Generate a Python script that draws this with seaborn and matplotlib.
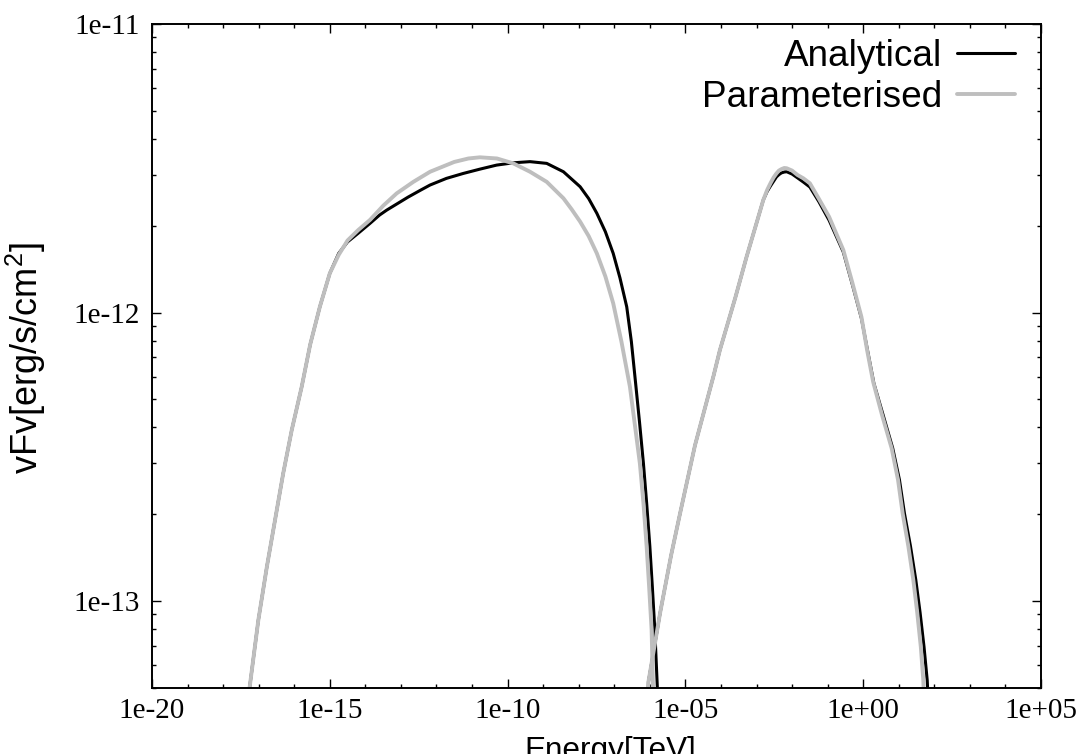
import numpy as np
import pandas as pd
import matplotlib
matplotlib.use('Agg')
import matplotlib.pyplot as plt
import seaborn as sns
from matplotlib.lines import Line2D
from matplotlib.ticker import FixedLocator, LogLocator, FuncFormatter, NullFormatter

# log10(E/TeV) and log10(vFv)
ana_sync_logE = [-17.36, -17.24, -17.01, -16.77, -16.54, -16.31, -16.07, -15.79, -15.55, -15.28,
                 -15.00, -14.75, -14.50, -14.20, -13.87, -13.60, -13.40, -13.12, -12.80, -12.45,
                 -12.18, -11.72, -11.25, -10.78, -10.31, -9.84, -9.37, -8.90, -8.43, -7.96,
                 -7.72, -7.49, -7.25, -7.03, -6.84, -6.65, -6.52, -6.40, -6.29, -6.18,
                 -6.09, -6.00, -5.93, -5.86, -5.79, -5.77]
ana_sync_logF = [-13.40, -13.285, -13.066, -12.881, -12.719, -12.557, -12.407, -12.257, -12.11, -11.98,
                 -11.864, -11.795, -11.755, -11.725, -11.691, -11.662, -11.645, -11.624, -11.600, -11.576,
                 -11.558, -11.535, -11.518, -11.503, -11.489, -11.481, -11.477, -11.483, -11.512, -11.564,
                 -11.605, -11.656, -11.72, -11.795, -11.88, -11.98, -12.10, -12.245, -12.38, -12.523,
                 -12.66, -12.81, -12.95, -13.10, -13.297, -13.40]

par_sync_logE = [-17.36, -17.24, -17.01, -16.77, -16.54, -16.31, -16.07, -15.79, -15.55, -15.28,
                 -15.00, -14.75, -14.50, -14.20, -13.87, -13.50, -13.12, -12.65, -12.18, -11.50,
                 -11.10, -10.78, -10.30, -9.84, -9.37, -8.90, -8.43, -8.20, -7.96, -7.72,
                 -7.49, -7.25, -7.03, -6.80, -6.56, -6.42, -6.28, -6.18, -6.09, -6.02,
                 -5.95, -5.91, -5.89]
par_sync_logF = [-13.40, -13.285, -13.066, -12.881, -12.719, -12.557, -12.407, -12.257, -12.11, -11.98,
                 -11.864, -11.80, -11.75, -11.714, -11.679, -11.63, -11.587, -11.547, -11.512, -11.478,
                 -11.466, -11.462, -11.466, -11.483, -11.512, -11.547, -11.604, -11.642, -11.685, -11.735,
                 -11.795, -11.875, -11.968, -12.10, -12.257, -12.39, -12.523, -12.66, -12.81, -12.95,
                 -13.10, -13.30, -13.40]

ana_ic_logE = [-6.07, -6.04, -5.71, -5.40, -5.15, -4.73, -4.21, -4.03, -3.60, -3.28,
               -3.00, -2.81, -2.70, -2.60, -2.52, -2.44, -2.37, -2.30, -2.22, -2.15,
               -2.00, -1.85, -1.68, -1.50, -1.25, -0.96, -0.56, -0.30, -0.05, 0.12,
               0.30, 0.56, 0.83, 1.02, 1.16, 1.33, 1.48, 1.60, 1.71, 1.80, 1.85]
ana_ic_logF = [-13.40, -13.28, -13.04, -12.84, -12.696, -12.46, -12.22, -12.13, -11.95, -11.807,
               -11.69, -11.61, -11.58, -11.56, -11.545, -11.53, -11.522, -11.516, -11.513, -11.512,
               -11.52, -11.533, -11.548, -11.565, -11.615, -11.68, -11.79, -11.905, -12.02, -12.13,
               -12.245, -12.355, -12.47, -12.58, -12.696, -12.81, -12.927, -13.04, -13.158, -13.274, -13.40]

par_ic_logE = [-6.07, -6.04, -5.71, -5.40, -5.15, -4.73, -4.21, -4.03, -3.60, -3.28,
               -3.00, -2.81, -2.70, -2.60, -2.52, -2.44, -2.37, -2.30, -2.22, -2.15,
               -2.00, -1.85, -1.68, -1.50, -1.25, -0.96, -0.56, -0.30, -0.05, 0.11,
               0.28, 0.53, 0.80, 0.98, 1.11, 1.27, 1.41, 1.52, 1.62, 1.69, 1.73]
par_ic_logF = [-13.40, -13.28, -13.04, -12.84, -12.696, -12.46, -12.22, -12.13, -11.95, -11.807,
               -11.69, -11.61, -11.575, -11.55, -11.532, -11.518, -11.508, -11.503, -11.499, -11.50,
               -11.508, -11.523, -11.535, -11.552, -11.605, -11.668, -11.783, -11.899, -12.015, -12.13,
               -12.24, -12.355, -12.47, -12.58, -12.696, -12.81, -12.927, -13.04, -13.158, -13.274, -13.40]

x_major = [-20, -15, -10, -5, 0, 5]
y_major = [-13, -12, -11]


def part_frame(logE, logF, model, part):
    return pd.DataFrame({'energy': 10.0 ** np.array(logE), 'flux': 10.0 ** np.array(logF),
                         'model': model, 'part': part})


df = pd.concat([
    part_frame(ana_sync_logE, ana_sync_logF, 'Analytical', 'sync'),
    part_frame(ana_ic_logE, ana_ic_logF, 'Analytical', 'ic'),
    part_frame(par_sync_logE, par_sync_logF, 'Parameterised', 'sync'),
    part_frame(par_ic_logE, par_ic_logF, 'Parameterised', 'ic'),
], ignore_index=True)

sns.set_style('white')
plt.rcParams['font.family'] = ['Liberation Sans', 'DejaVu Sans']
plt.rcParams['mathtext.default'] = 'regular'
plt.rcParams['text.color'] = 'black'

colors = {'Analytical': 'black', 'Parameterised': '#bebebe'}
widths = {'Analytical': 2.2, 'Parameterised': 2.8}

fig = plt.figure(figsize=(10.78, 7.54), dpi=100)
ax = fig.add_axes([152 / 1078, 1 - 688 / 754, (1041 - 152) / 1078, (688 - 24) / 754])
ax.set_xscale('log')
ax.set_yscale('log')

for model in ['Analytical', 'Parameterised']:
    sns.lineplot(data=df[df['model'] == model], x='energy', y='flux', units='part',
                 estimator=None, sort=False, color=colors[model], linewidth=widths[model],
                 solid_joinstyle='round', solid_capstyle='round', ax=ax, legend=False)

ax.set_xlim(1e-20, 1e5)
ax.set_ylim(5e-14, 1e-11)

fmt = FuncFormatter(lambda v, p: f'{v:.0e}')
ax.xaxis.set_major_locator(FixedLocator(10.0 ** np.array(x_major)))
ax.xaxis.set_minor_locator(FixedLocator(10.0 ** np.arange(-20, 6)))
ax.xaxis.set_major_formatter(fmt)
ax.xaxis.set_minor_formatter(NullFormatter())
ax.yaxis.set_major_locator(FixedLocator(10.0 ** np.array(y_major)))
ax.yaxis.set_minor_locator(LogLocator(base=10, subs=np.arange(2, 10), numticks=20))
ax.yaxis.set_major_formatter(fmt)
ax.yaxis.set_minor_formatter(NullFormatter())

ax.tick_params(which='both', direction='in', top=True, right=True, bottom=True, left=True,
               width=1.0, color='black', labelsize=21, labelfontfamily='Liberation Serif',
               labelcolor='black')
ax.tick_params(which='major', length=6.5)
ax.tick_params(which='minor', length=3.2)
ax.tick_params(axis='x', pad=7)
ax.tick_params(axis='y', pad=9)
for s in ax.spines.values():
    s.set_color('black')
    s.set_linewidth(1.4)
ax.set_xlabel('')
ax.set_ylabel('')

fig.text(610 / 1078, -5.5 / 754, 'Energy[TeV]', ha='center', va='baseline', fontsize=22.7,
         color='black')
fig.text(26 / 1078, 1 - 358 / 754, 'vFv[erg/s/cm$^{2}$]', ha='center', va='center',
         rotation=90, fontsize=26, color='black')

handles = [Line2D([0], [0], color=colors[m], lw=widths[m]) for m in colors]
leg = ax.legend(handles, list(colors), loc='upper right', bbox_to_anchor=(0.971, 0.978),
                frameon=False, markerfirst=False, fontsize=26.6, handlelength=1.57,
                handletextpad=0.4, labelspacing=0.16, borderpad=0, borderaxespad=0)
for t in leg.get_texts():
    t.set_color('black')

fig.savefig('out.png', dpi=100)
